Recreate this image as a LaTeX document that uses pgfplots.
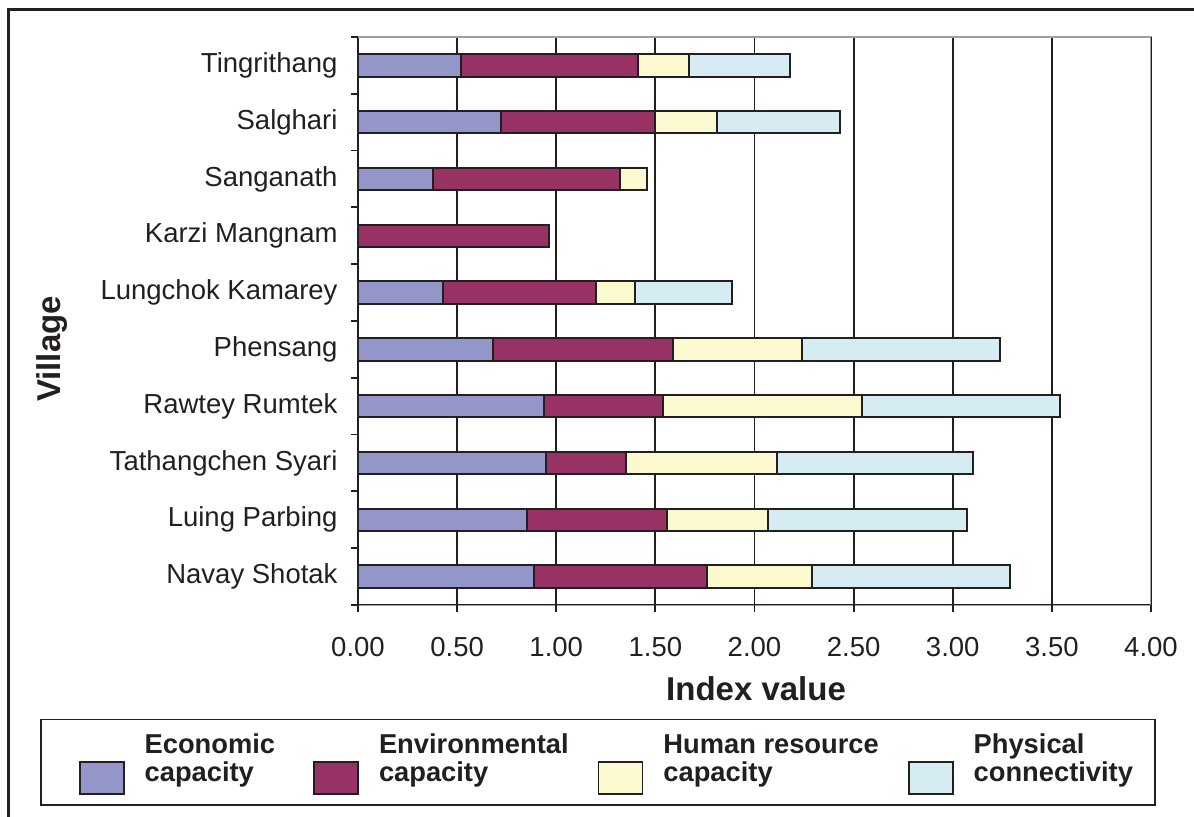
\documentclass[border=0pt]{standalone}
\usepackage{fontspec}
\setmainfont{Liberation Sans}
\usepackage{pgfplots}
\pgfplotsset{compat=1.18}
\usepackage{pgfplotstable}
\definecolor{econ}{RGB}{148,149,200}
\definecolor{env}{RGB}{152,50,100}
\definecolor{hum}{RGB}{250,249,208}
\definecolor{phys}{RGB}{212,236,242}
\definecolor{ink}{RGB}{35,31,32}
\pgfplotsset{swatch/.style={legend image code/.code={\path[draw=none,fill=none] (-#1,-12pt) -- (0pt,-12pt);
  \draw[##1, line width=0.9pt] (0pt,-20.5pt) rectangle (22pt,-4.5pt);}}}
\pgfplotstableread{
y econ env hum phys
0 0.89 0.87 0.53 1.00
1 0.85 0.71 0.51 1.00
2 0.95 0.40 0.765 0.985
3 0.94 0.60 1.00 1.00
4 0.68 0.91 0.65 1.00
5 0.43 0.77 0.195 0.49
6 0.00 0.965 0.00 0.00
7 0.38 0.94 0.14 0.00
8 0.72 0.78 0.31 0.62
9 0.52 0.89 0.26 0.51
}\data
\begin{document}
\begin{tikzpicture}
\begin{axis}[
  scale only axis, width=396.5pt, height=284pt,
  xbar stacked, bar width=11.25pt,
  xmin=0, xmax=4, ymin=-0.5, ymax=9.5,
  tick pos=left,
  major tick length=0pt,
  xtick={0,0.5,...,4},
  xticklabel={\pgfmathprintnumber[fixed,fixed zerofill,precision=2,assume math mode=true]{\tick}},
  xmajorgrids=true,
  extra x ticks={0,0.5,...,4},
  extra x tick labels={},
  extra x tick style={major tick length=3.75pt},
  ytick={0,1,...,9},
  yticklabels={Navay Shotak,Luing Parbing,Tathangchen Syari,Rawtey Rumtek,Phensang,Lungchok Kamarey,Karzi Mangnam,Sanganath,Salghari,Tingrithang},
  yticklabel style={xshift=-6.7pt},
  extra y ticks={-0.5,0.5,...,9.5},
  extra y tick labels={},
  extra y tick style={major tick length=3.5pt},
  tick align=outside,
  tick style={line width=0.9pt, ink},
  grid style={line width=0.9pt, ink},
  axis line style={line width=1pt, black!38},
  tick label style={font=\fontsize{13.75}{16}\selectfont, text=ink},
  xticklabel style={yshift=-12.5pt},
  xlabel={Index value},
  ylabel={Village},
  every axis x label/.style={at={(axis description cs:0.502,-0.1673)}, anchor=base, font=\fontsize{16.5}{18}\selectfont\bfseries, text=ink},
  every axis y label/.style={at={(axis description cs:-0.386,0.4507)}, rotate=90, anchor=center, font=\fontsize{16.5}{18}\selectfont\bfseries, text=ink},
  legend columns=4,
  legend cell align=left,
  legend style={at={(axis description cs:-0.401,-0.2007)}, anchor=north west,
    draw=ink, line width=0.75pt,
    font=\fontsize{13.65}{14}\selectfont\bfseries, text=ink,
    inner xsep=9pt, inner ysep=5pt,
    /tikz/every odd column/.append style={column sep=8pt},
    /tikz/every even column/.append style={column sep=12.5pt}},
  every axis plot post/.append style={line width=1pt, draw=ink},
]
\addplot[fill=econ, swatch=10.5pt] table[x=econ,y=y] {\data};
\addlegendentry{\begin{tabular}{@{}l@{}}Economic\\capacity\end{tabular}}
\addplot[fill=env, swatch=5pt] table[x=env,y=y] {\data};
\addlegendentry{\begin{tabular}{@{}l@{}}Environmental\\capacity\end{tabular}}
\addplot[fill=hum, swatch=0pt] table[x=hum,y=y] {\data};
\addlegendentry{\begin{tabular}{@{}l@{}}Human resource\\capacity\end{tabular}}
\addplot[fill=phys, swatch=0pt] table[x=phys,y=y] {\data};
\addlegendentry{\begin{tabular}{@{}l@{}}Physical\\connectivity\end{tabular}}
\draw[line width=1pt, black!38] (rel axis cs:1,0) -- (rel axis cs:1,1) -- (rel axis cs:0,1);
\draw[line width=1pt, ink] (rel axis cs:0,1) -- (rel axis cs:0,0) -- (rel axis cs:1,0);
\coordinate (SW) at (rel axis cs:0,0);
\end{axis}
\draw[line width=1.5pt, ink] ([xshift=420pt,yshift=297.5pt]SW) -- ([xshift=-174.5pt,yshift=297.5pt]SW) -- ([xshift=-174.5pt,yshift=-110pt]SW);
\pgfresetboundingbox
\path[use as bounding box] ([xshift=-179pt,yshift=-106pt]SW) rectangle ([xshift=418pt,yshift=302.5pt]SW);
\end{tikzpicture}
\end{document}
